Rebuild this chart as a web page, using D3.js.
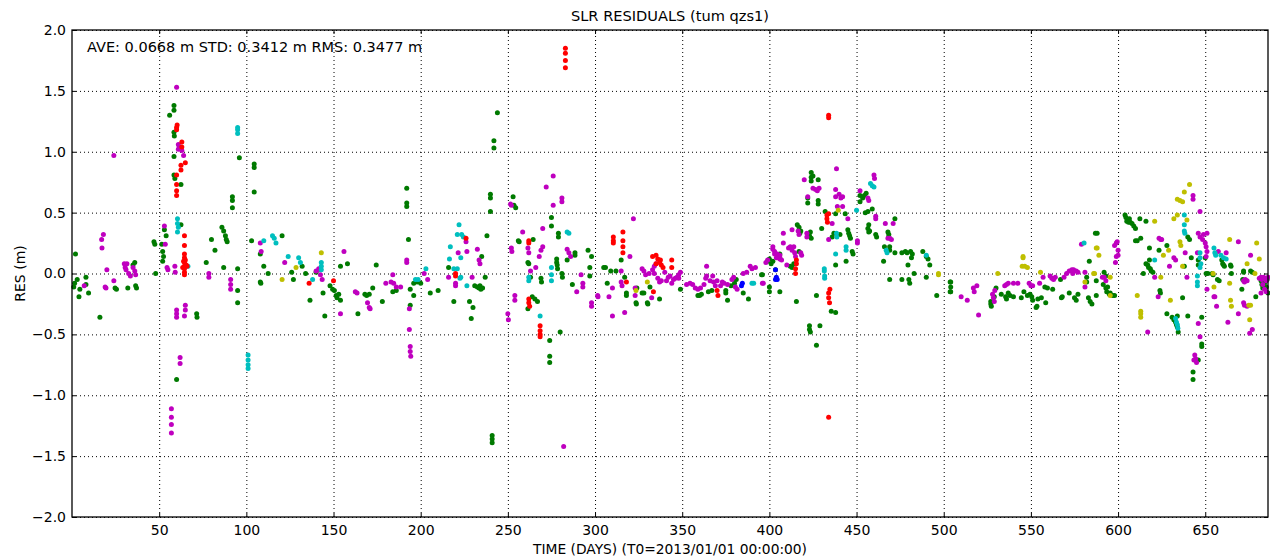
<!DOCTYPE html>
<html>
<head>
<meta charset="utf-8">
<script src="https://cdn.jsdelivr.net/npm/d3@7"></script>
<style>
  body { margin: 0; background: #fff; }
  svg text { font-family: "DejaVu Sans", sans-serif; fill: #000; }
</style>
</head>
<body>
<svg id="chart"></svg>
<script>
var width = 1270
var height = 558
var margin = {top: 30, right: 2, bottom: 41, left: 72}

var title = "SLR RESIDUALS (tum qzs1)"
var statsText = "AVE: 0.0668 m STD: 0.3412 m RMS: 0.3477 m"
var xLabel = "TIME (DAYS) (T0=2013/01/01 00:00:00)"
var yLabel = "RES (m)"
var xTicks = [50, 100, 150, 200, 250, 300, 350, 400, 450, 500, 550, 600, 650]
var yTicks = [-2, -1.5, -1, -0.5, 0, 0.5, 1, 1.5, 2]

// [day, residual m]
var greenPts = [[2,0.16],[1.5,-0.08],[3,-0.05],[4,-0.19],[4.5,-0.13],[8,-0.03],[8,-0.09],[9.5,-0.16],[1,-0.11],
[16,-0.36],[24.7,-0.12],[25.5,-0.13],[32,-0.12],[36,0.09],[35,0.07],[36.5,-0.1],[37,-0.12],
[47,0.26],[47.5,0.24],[48,0.0],[51.5,0.24],[52,0.18],[52.5,0.14],[52,0.1],[53,0.36],[54,0.31],
[56,1.30],[58.5,1.38],[58.5,1.34],[58.5,1.16],[58.7,1.13],[58.5,0.96],[58.5,0.81],[59,0.78],[62.5,0.73],[62.5,0.40],[60,-0.87],
[71.5,-0.33],[71.7,-0.36],[77,0.09],[80,0.28],[82,0.19],[86,0.38],[87,0.35],[88,0.31],[89,0.26],[88.5,0.28],[87,0.05],
[92,0.63],[92,0.60],[92,0.54],[95,0.04],[95,-0.14],[95,-0.24],[96,0.95],[103,0.27],
[104.5,0.90],[104.5,0.87],[104.5,0.67],[108,0.16],[108,-0.07],[108.3,-0.08],[110,0.06],[112.5,0.0],[120.5,0.31],[126,0.01],[127,-0.05],[132,0.06],[134,0.0],[136.5,-0.22],[140,0.01],[144,-0.16],[145,-0.35],[148,-0.1],[149.5,-0.13],[150.5,-0.14],[151.5,-0.18],[152,-0.2],[153,-0.17],[154,-0.22],[154,0.06],[158,0.08],[164,-0.33],[168,-0.17],[169,-0.18],[170.5,-0.17],[172.5,-0.12],[174.5,0.07],[178,-0.23],[184,-0.15],[186,-0.14],[192,0.70],[192,0.58],[192,0.55],[193,0.28],[194,-0.13],[194,-0.26],[196,-0.18],[196,-0.08],[198,-0.07],[200,-0.08],[205.5,-0.16],
[210,-0.14],[216,0.05],[219,-0.23],[228,-0.23],[230,-0.28],[229,-0.37],[231,-0.1],[232.5,-0.11],[234,-0.1],[234.5,-0.13],[235.5,-0.12],[233.5,-0.12],[235,0.14],[237,-0.03],[238,0.31],[240,0.65],[240,0.62],[240,0.51],[242,1.09],[242,1.03],[244,1.32],[241,-1.33],[241,-1.36],[241,-1.39],[253,0.63],[253.5,0.56],[254.5,0.54],[256,0.27],[256.5,0.26],[261.5,0.09],[262,0.08],[263,-0.03],[264,-0.19],[265.5,-0.21],[267,-0.23],[261.5,-0.29],[264.5,0.28],[269,-0.04],[269.3,-0.07],[274,-0.55],[274,-0.68],[274,-0.73],[275,0.46],[275,0.39],[278,0.12],[278,0.09],[278.3,0.07],[278.5,0.04],[279,0.33],[279,0.30],[281,0.0],[281.3,-0.03],[280,-0.48],[284,0.11],[287,-0.09],[288.5,0.17],[288.5,0.15],[296,0.19],[298,0.14],[297,0.05],[297,-0.02],[306,0.05],[307,-0.08],[309,0.02],
[305,0.05],[312,0.02],[315,0.11],[317,-0.03],[318,-0.16],[318,-0.18],[323.5,-0.24],[323.7,-0.25],[324,-0.12],[327,-0.16],[328,-0.16],[330,-0.24],[330.3,-0.25],[331.5,-0.11],[337,-0.21],[349,-0.13],[359,-0.18],[360,-0.18],[361,-0.17],[365,-0.15],[367,-0.14],[375,-0.14],[375,-0.16],[376,-0.22],[378,-0.1],[380,-0.08],[381,-0.05],[385,-0.16],[388,-0.21],[396,-0.01],[399,0.1],[400,0.12],[401,0.08],[402,0.1],[400,-0.15],[406,-0.15],
[395.5,-0.01],[400,-0.11],[403.5,0.03],[406,0.16],[412,0.06],[413,0.05],[414,0.08],[416,0.40],[417,0.38],[418,0.35],[417.5,0.33],[415.5,-0.23],[417,0.18],[423.5,0.34],[423,0.31],[424,0.29],[424,0.83],[424,0.79],[424,0.76],[425,0.80],[422,0.62],[422,0.58],[428,0.77],[428,0.60],[428,0.57],[423,-0.43],[423,-0.46],[423.5,-0.48],[429,-0.43],[427,-0.59],[427,-0.18],[430,0.37],[432,0.51],[436,0.30],[437,0.33],[438,0.07],[435.5,-0.31],[438,-0.32],[438,0.49],[440.5,0.32],[443.5,0.49],[445,0.36],[445.5,0.33],[446,0.31],[446.5,0.29],[444,0.10],[447.5,0.18],[448,0.16],[452,0.64],[452,0.59],[453.5,0.62],[454.5,0.64],[455.5,0.66],[455,0.50],[456.5,0.51],[457,0.40],[456.5,0.37],[457,0.34],[457.5,0.35],[459,0.53],[461,0.32],[461.5,0.30],[465.5,0.10],[468,0.34],[468.5,0.32],[468.5,0.30],[466,0.22],[469,0.22],[469,0.19],[472,0.45],[469,-0.05],[472,0.17],[476,-0.05],[476,0.17],[478,0.18],[479,0.17],[481,0.18],[482,0.16],[481.5,0.13],[479.5,0.07],[480,-0.05],[480.5,-0.08],[483,0.0],[488,0.18],[490,0.14],[491,0.12],[490,-0.03],[492,0.07],[496,-0.18],[503.7,-0.07],[503.7,-0.15],
[504,-0.07],[504,-0.11],[504,-0.15],[527,-0.23],[527,-0.25],[527.3,-0.27],[529,-0.19],[530,-0.12],[533,-0.17],[535.5,-0.19],[537,-0.16],[538,-0.18],[536,-0.21],[540,-0.19],[544.5,-0.2],[546,-0.15],[548,-0.18],[549.5,-0.17],[550.5,-0.19],[551,-0.22],[553,-0.28],[553.5,-0.27],[554,-0.21],[556,-0.2],[558,-0.11],[559.5,-0.12],[562.5,-0.13],[558.5,-0.24],[567.5,-0.2],[568,-0.19],[567,-0.05],[572,-0.16],[575,-0.2],[576,-0.22],[577,-0.17],[582,-0.03],[582,-0.07],[583,-0.2],[584,-0.23],[585,-0.25],[583.5,0.10],[587.5,-0.06],[587.5,-0.18],[588,0.33],
[587,0.33],[592,0.01],[593,-0.02],[591.5,-0.09],[593,-0.12],[594,-0.11],[593.5,-0.15],[595,-0.17],[597,-0.18],[598,-0.18],[595.5,-0.16],[604,0.48],[604.5,0.46],[605,0.43],[606,0.42],[607,0.42],[608,0.41],[609,0.39],[610,0.37],[606.5,0.45],[612.5,0.45],[616,0.43],[610,0.27],[611,0.27],[613,0.29],[618,0.21],[616,0.08],[617,0.07],[617.5,0.05],[618.5,0.04],[619,0.02],[620,0.01],[618,0.11],[614.5,0.0],[623.5,0.19],[624,-0.14],[624.3,-0.16],[628,0.23],[628,-0.33],[631,-0.36],[632,-0.38],[633,-0.40],[633.5,-0.42],[634,-0.44],[634.5,-0.48],[634,-0.35],[637,-0.2],[638,0.06],[640,-0.35],[640,0.30],[641,0.28],[642,0.13],[646,0.11],[646,0.07],[648,-0.36],[648,-0.58],[648,-0.60],[643,-0.81],[643,-0.87],[646,-0.71],[650,0.13],[650.5,0.0],[651.5,0.0],[654,0.0],[654.5,-0.01],[657,-0.05],[658,-0.06],[659.5,0.11],[660,0.08],[660.5,0.07],[661,0.06],[665,0.0],[664.5,0.07],[664.8,0.06],[671.5,-0.05],[672,0.02],[672,0.01],[676,0.02],[677,0.01],[682,-0.06],[682.5,-0.09],[683,-0.12],[684,-0.08],[685,-0.11],[685.5,-0.05],[686,-0.16],[671,-0.13],[679,-0.19]]

var magentaPts = [[24,0.97],[17,0.28],[18,0.32],[17.2,0.21],[20,0.03],[19,-0.11],[19.5,-0.12],[24,-0.06],[7,-0.10],
[30,0.08],[31.5,0.08],[30.5,0.05],[31,0.03],[32.5,0.0],[33.5,-0.02],[35,0.05],[36,0.02],[36.5,-0.01],
[53,0.39],[53.5,0.24],[54.5,0.05],[55,0.03],[59,0.06],[59.2,0.01],[60,1.53],[61,1.06],[61.5,1.04],[63,1.01],[64,0.97],[61,1.02],
[60,-0.30],[60,-0.33],[60,-0.36],[65,-0.26],[65,-0.30],[64.5,-0.35],[62,-0.69],[62,-0.74],[57,-1.11],[57,-1.18],[57,-1.24],[57,-1.31],
[78.5,0.0],[78.5,-0.03],[91,-0.05],[91,-0.09],[91,-0.13],
[108,0.25],[108.5,0.18],[122,0.09],[140,0.02],[142,0.03],[142.5,-0.01],[143.5,-0.05],[141.5,0.04],[156,0.18],[154,-0.33],[162.5,-0.15],[163.5,-0.16],[169.5,-0.24],[170.5,-0.28],[171,-0.29],[180,-0.08],[184,-0.01],[183,-0.07],[184.5,-0.08],[186,-0.11],[188.5,-0.11],[192,0.11],[192,0.09],[193.5,-0.29],[193.5,-0.46],[194,-0.60],[194,-0.64],[194.3,-0.68],[202,0.0],[204,-0.05],
[216,-0.03],[220,-0.08],[220,-0.10],[221.5,0.17],[226,0.26],[226.5,0.18],[229.5,-0.03],[232.5,0.20],[233.5,0.11],[234,0.08],[250,-0.33],[250.3,-0.38],[251.5,0.57],[252,0.56],[252,0.21],[252.3,0.18],[254,-0.18],[254,-0.22],[258.5,0.34],[261.5,0.21],[262,0.17],[263,0.02],[266,0.05],[268,0.14],[269,0.19],[270,0.22],[270,0.37],[272,0.71],[276,0.80],[276,0.56],[281,0.62],[281,0.59],[284,0.20],[285,0.17],[286,0.14],[289.5,-0.15],[292,-0.01],[293,-0.08],[293,-0.11],[298,-0.24],[298,-0.27],[301.5,-0.18],[301.7,-0.19],[282,-1.42],
[322,0.45],[320,0.14],[315,0.02],[315,-0.07],[315.5,-0.10],[310,-0.12],[308,-0.19],[310,-0.35],[317,-0.32],[323,-0.12],[323,-0.18],
[327,0.04],[328,0.02],[329,-0.01],[331,0.0],[333,0.03],[334,0.06],[335,0.08],[334,0.0],[336,-0.04],[337,-0.07],[338,-0.06],[340,0.01],[341,-0.06],[342,-0.03],[343,-0.02],[344,-0.08],[345,-0.05],[346,-0.04],[347,-0.03],[348,-0.01],[349,0.01],[348,-0.04],[332.5,-0.20],
[352.5,-0.09],[354.5,-0.08],[356,-0.09],[357.5,-0.12],[359,-0.13],[360.5,-0.12],[362.5,-0.09],[363.5,-0.04],[364,0.06],[364,-0.02],[366,-0.06],[367.5,-0.02],[368,-0.07],[369,-0.10],[370,-0.06],[372,-0.10],[373,-0.07],[374,-0.08],[376,-0.09],[378.5,-0.05],[379.5,-0.03],[380.5,-0.11],[381.5,-0.13],[385,0.0],[387,0.01],[389,0.06],[390,0.04],[392,0.05],[396,-0.08],[402,0.22],[403,0.18],[404.5,0.16],[406,0.15],
[396.5,-0.08],[398,0.09],[399,0.11],[402,0.2],[403,0.16],[404,0.13],[405,0.14],[406,0.12],[407,0.11],[406,0.13],[410,0.07],[408,0.33],[408,0.25],[411,0.21],[412,0.22],[413,0.19],[413,0.36],[414,0.22],[414.5,0.17],[415,0.14],[416.5,0.35],[417,0.32],[418,0.17],[418.5,0.15],[421.5,0.33],[421.5,0.30],[420,0.77],[422,0.63],[425,0.70],[426.5,0.69],[427.5,0.68],[428.5,0.70],[438.5,0.86],[438,0.69],[438,0.63],[440,0.65],[441,0.62],[442,0.63],[439,0.55],[442,0.55],[436,0.41],[434,0.28],[445,0.45],[450.5,0.27],[450.5,0.25],[452,0.68],[456.5,0.62],[457,0.60],[460,0.81],[460.3,0.78],[461,0.47],[461,0.45],[466.5,0.41],[471,0.41],[468,0.29],[469,0.29],[470,0.28],
[510,-0.19],[513.5,-0.22],[517,-0.12],[517.5,-0.15],[519,-0.1],[520,-0.34],[528,-0.17],[528.5,-0.2],[529,-0.23],[529.3,-0.14],[535,-0.1],[536,-0.09],[537,-0.08],[540,-0.08],[542.5,-0.08],[549,-0.08],[550,-0.1],[551,-0.1],[555,-0.08],[557,-0.03],[561,-0.02],[562,-0.04],[563,-0.05],[564,-0.03],[569,-0.03],[570.5,0.0],[572,0.02],[573.5,0.03],[574.5,0.03],[576,0.02],[577,0.01],[574,0.0],[579,0.24],[581,0.01],[581,-0.11],
[598,0.23],[599,0.25],[599.5,0.26],[600,0.19],[600,0.15],[599,0.14],[598.5,0.09],[591,-0.03],[592,-0.03],[593,-0.06],[617,-0.48],[621,-0.03],[623.5,0.29],[624.5,0.28],[625,0.28],[623,-0.19],[629.5,0.06],[632,0.13],[633,0.11],[638.5,0.17],[639.5,-0.03],[643,0.64],[643,0.61],[647,0.51],[646,0.33],[647,0.30],[648.5,0.28],[649,0.32],[651,0.33],[650,0.25],[650.5,0.22],[651,0.18],[650.5,0.14],[645.5,0.17],[651,-0.13],[655,-0.19],[655.5,-0.19],[656.5,-0.27],[646,-0.41],[647,-0.52],[644,-0.67],[644.5,-0.70],[645,-0.73],[643.5,-0.71],[657.5,0.18],[662,0.17],[663,-0.40],[669,0.26],[672,-0.06],[672.5,-0.07],[673,-0.05],[674,-0.06],[672,-0.24],[672.5,-0.26],[674,-0.27],[669,-0.33],[675.5,-0.49],[677,-0.46],[676,0.15],[681,-0.04],[682,-0.03],[682.5,-0.05],[683.5,-0.03],[684,-0.04],[685,-0.06],[686,-0.03],[683,-0.09],[684,-0.13],[685,-0.15],[682,-0.16]]

var redPts = [[60,1.20],[60,1.18],[60.3,1.22],[63,1.08],[63,1.04],[65,0.91],[62.5,0.89],[62.5,0.85],[60,0.81],[60,0.73],[60,0.68],[60,0.64],
[64.5,0.31],[64.5,0.23],[64.5,0.16],[64.5,0.13],[64.5,0.09],[64.5,0.06],[64.5,0.04],[64.5,0.01],[64.5,-0.01],[65.5,0.07],[63.5,0.05],[66,0.06],[65,0.11],[64,0.10],
[136,-0.08],[150,-0.06],
[283,1.85],[283,1.81],[283,1.75],[283,1.69],[226,0.29],[220,-0.02],[220,0.0],[262,0.27],[262,0.25],[262,-0.21],[262,-0.24],[262.5,-0.27],[268.5,-0.43],[268.5,-0.47],[268.5,-0.50],[268.5,-0.52],
[310.5,0.30],[310.5,0.27],[310.5,0.25],[316,0.34],[316,0.27],[316,0.22],[316,0.17],[318,-0.07],[333,0.14],[335,0.15],[336,0.12],[337,0.09],[338,0.07],[339,0.05],[335,0.08],[337.5,0.11],[344,0.11],[344,0.05],[333.5,-0.15],[370,-0.14],[370.5,-0.18],
[434,1.30],[434,1.28],[434,-1.18],[433,0.48],[433,0.45],[433.3,0.42],[434,0.49],[434,-0.16],[434,-0.20],[434.5,-0.24],[434.7,-0.13],[415.5,0.11],[415.5,0.08],[415,0.04],[415,0.0]]

var cyanPts = [[60.5,0.45],[60.5,0.41],[61,0.38],[60.5,0.34],[66.5,0.06],[95,1.20],[95,1.18],[95,1.15],[101,-0.67],[101,-0.71],[101,-0.75],[101,-0.78],
[110,0.27],[115,0.31],[116,0.29],[117,0.25],[124,0.14],[130,0.13],[131,0.09],[138,-0.05],[143,0.09],[143,0.06],[143,0.03],[197,-0.05],[198.5,-0.05],[203,0.04],
[216.5,0.12],[217,0.22],[221,0.32],[222,0.40],[223.5,0.32],[224.5,0.30],[219,0.04],[221,0.04],[222.5,-0.04],[223,-0.03],[223,0.13],[226.5,-0.10],[262,-0.06],[262,-0.03],[268.5,-0.35],[275,0.05],[275,-0.01],[275,-0.06],[284,0.34],[285,0.33],
[390,-0.08],[391,-0.08],
[431.5,0.04],[431.5,0.02],[431.7,-0.02],[431.7,-0.04],[438.5,0.33],[438.7,0.30],[438,0.16],[444,0.22],[444,0.19],[450,0.52],[458,0.74],[459,0.72],[460,0.71],[467,0.19],[467.5,0.17],[490,0.15],
[580.5,0.25],[621,0.11],[638,0.48],[638,0.40],[638,0.35],[638.3,0.33],[633,-0.37],[633.5,-0.40],[634,-0.42],[634.3,-0.45],[647,0.17],[647,0.13],[647.5,0.08],[647,0.05],[645.5,-0.02],[645.5,-0.07],[645.5,-0.10],[655,0.21],[655.5,0.17],[656,0.15],[659,0.15],[660.5,0.13],[662,0.12]]

var yellowPts = [[120.5,-0.05],[128.5,0.05],[143,0.17],[330,-0.07],[323.5,-0.14],[439.5,0.52],[497,0.0],[497,-0.01],
[531,0.0],[545.5,0.14],[545.5,0.13],[545,0.06],[546.5,0.06],[548,0.05],[555.5,0.01],[581,-0.07],[586,0.0],[588,0.21],[589,0.15],
[587.5,0.21],[586.5,0.0],[595.5,-0.03],[595.5,-0.18],[611,-0.18],[613,-0.31],[613,-0.33],[613,-0.36],[621,0.43],[624.5,-0.03],[626,0.15],[629,0.19],[630,-0.22],[632,0.45],[634,0.48],[635.5,0.26],[636,0.23],[637,0.06],[634,0.61],[635.5,0.60],[637,0.59],[638,0.67],[641,0.73],[639.5,0.44],[654.5,0.0],[655,-0.11],[664,0.28],[664,-0.08],[664.5,-0.22],[665,-0.27],[674,0.08],[675,-0.26],[676,-0.26],[675.5,-0.38],[679.5,0.25],[681,0.12],[678.5,0.0]]

var bluePts = [[384,-0.1],[384.5,-0.08],[403.5,0.03],[403.5,-0.05],[404,-0.03],[404.5,-0.05]]

var series = [
  {pts: greenPts, color: "#007a00"},
  {pts: magentaPts, color: "#bf00bf"},
  {pts: cyanPts, color: "#00bfbf"},
  {pts: yellowPts, color: "#bfbf00"},
  {pts: redPts, color: "#ff0000"},
  {pts: bluePts, color: "#0000ff"}
]

var w = width - margin.left - margin.right
var h = height - margin.top - margin.bottom

var xScale = d3.scaleLinear().domain([0, 686]).range([0, w])
var yScale = d3.scaleLinear().domain([-2, 2]).range([h, 0])

var svg = d3.select("#chart")
  .attr("width", width)
  .attr("height", height)

var g = svg.append("g")
  .attr("transform", "translate(" + margin.left + "," + margin.top + ")")

// grid
g.append("g")
  .attr("class", "grid")
  .attr("transform", "translate(0," + h + ")")
  .call(d3.axisBottom(xScale).tickValues(xTicks).tickSize(-h).tickFormat(""))
g.append("g")
  .attr("class", "grid")
  .call(d3.axisLeft(yScale).tickValues(yTicks).tickSize(-w).tickFormat(""))
g.selectAll(".grid path").remove()
g.selectAll(".grid line")
  .attr("stroke", "#333")
  .attr("stroke-width", 1)
  .attr("stroke-dasharray", "1,3")

// points
series.forEach(function(s) {
  g.append("g")
    .selectAll("circle")
    .data(s.pts)
    .enter()
      .append("circle")
      .attr("cx", d => xScale(d[0]))
      .attr("cy", d => yScale(d[1]))
      .attr("r", 2.5)
      .attr("fill", s.color)
})

// axes, ticks pointing inward on all four sides
var fmtY = d3.format(".1f")
g.append("g")
  .attr("transform", "translate(0," + h + ")")
  .call(d3.axisBottom(xScale).tickValues(xTicks).tickSize(-4).tickPadding(8))
g.append("g")
  .call(d3.axisTop(xScale).tickValues(xTicks).tickSize(-4).tickFormat(""))
g.append("g")
  .call(d3.axisLeft(yScale).tickValues(yTicks).tickSize(-4).tickPadding(6).tickFormat(fmtY))
g.append("g")
  .attr("transform", "translate(" + w + ",0)")
  .call(d3.axisRight(yScale).tickValues(yTicks).tickSize(-4).tickFormat(""))

svg.selectAll(".domain").remove()
svg.selectAll(".tick text")
  .style("font-family", "DejaVu Sans, sans-serif")
  .style("font-size", "14px")
  .attr("fill", "#000")
svg.selectAll(".tick line").attr("stroke", "#000")

g.append("rect")
  .attr("width", w)
  .attr("height", h)
  .attr("fill", "none")
  .attr("stroke", "#000")
  .attr("stroke-width", 1.3)

svg.append("text")
  .attr("x", margin.left + w / 2)
  .attr("y", 21)
  .attr("text-anchor", "middle")
  .style("font-size", "14.6px")
  .text(title)

g.append("text")
  .attr("x", 15)
  .attr("y", 22)
  .style("font-size", "14.5px")
  .text(statsText)

svg.append("text")
  .attr("x", margin.left + w / 2)
  .attr("y", 554)
  .attr("text-anchor", "middle")
  .style("font-size", "13.8px")
  .text(xLabel)

svg.append("text")
  .attr("transform", "translate(25," + (margin.top + h / 2) + ") rotate(-90)")
  .attr("text-anchor", "middle")
  .style("font-size", "14px")
  .text(yLabel)
</script>
</body>
</html>
